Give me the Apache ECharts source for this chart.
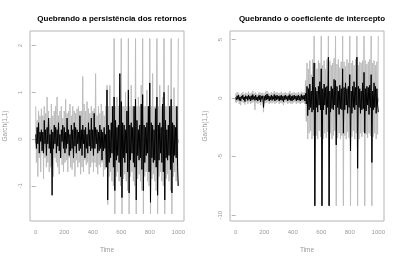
<!DOCTYPE html>
<html>
<head>
<meta charset="utf-8">
<script src="https://cdn.jsdelivr.net/npm/echarts@6/dist/echarts.min.js"></script>
<style>html,body{margin:0;padding:0;background:#fff}#c{width:400px;height:260px}</style>
</head>
<body>
<div id="c"></div>
<script>
// Time index: 0..1000 in steps of 5
var timeStep = 5;
var xTicks = [0, 200, 400, 600, 800, 1000];
var leftYTicks = [-1, 0, 1, 2];
var rightYTicks = [-10, -5, 0, 5];
var leftTitle = 'Quebrando a persistência dos retornos';
var rightTitle = 'Quebrando o coeficiente de intercepto';
var xName = 'Time';
var yName = 'Garch(1,1)';

var leftBlack = [
0.1,-0.2,0.25,-0.1,0.35,-0.3,0.15,-0.05,0.2,-0.25,
0.15,-0.3,0.4,-0.1,0.2,-0.35,0.25,-0.1,0.45,-0.2,
0.1,-0.3,0.2,-1.2,0.15,-0.2,0.3,-0.1,0.25,-0.3,
0.2,-0.15,0.35,-0.25,0.1,-0.4,0.2,-0.05,0.3,-0.2,
0.25,-0.3,0.15,-0.2,0.45,-0.1,0.2,-0.35,0.1,-0.25,
0.3,-0.2,0.2,-0.4,0.35,-0.15,0.25,-0.3,0.2,-0.1,
0.15,-0.25,0.5,-0.2,0.2,-0.35,0.3,-0.1,0.2,-0.4,
0.25,-0.2,0.1,-0.3,0.35,-0.15,0.2,-0.25,0.45,-0.2,
0.2,-0.35,0.55,-0.2,0.25,-0.1,0.2,-0.3,0.15,-0.25,
0.3,-0.2,0.2,-0.45,0.15,-0.25,0.25,-0.2,0.1,-0.6,
1.05,-1.3,0.3,-0.5,0.2,-0.4,0.35,-0.3,0.7,-0.6,
0.9,-1.1,0.4,-0.45,0.25,-0.35,0.3,-0.5,1.4,-0.8,
0.8,-1.25,0.35,-0.4,0.3,-0.5,0.2,-0.3,0.6,-0.7,
1.05,-1.15,0.3,-0.45,0.35,-0.3,0.25,-0.5,0.7,-0.6,
0.85,-1.3,0.4,-0.35,0.2,-0.45,0.3,-0.4,0.75,-0.65,
0.95,-1.1,0.3,-0.5,0.25,-0.35,0.35,-0.3,0.7,-0.7,
1.2,-1.35,0.35,-0.4,0.3,-0.5,0.2,-0.45,0.65,-0.6,
0.9,-1.2,0.3,-0.45,0.35,-0.3,0.25,-0.5,0.75,-0.7,
1.0,-1.3,0.4,-0.4,0.2,-0.45,0.3,-0.35,0.7,-0.65,
0.85,-1.15,0.35,-0.5,0.3,-0.35,0.25,-0.4,0.7,-0.6,
-1.0
];
var leftGray = [
0.7,-0.5,0.4,-0.8,0.6,-0.4,0.5,-0.7,0.65,-0.3,
0.5,-0.85,0.7,-0.4,0.55,-0.6,0.9,-0.5,0.6,-0.7,
0.45,-0.6,0.75,-0.55,0.5,-0.8,0.6,-0.4,0.7,-0.5,
0.9,-0.6,0.5,-0.75,0.6,-0.4,0.7,-0.55,0.45,-0.7,
0.6,-0.5,0.85,-0.45,0.55,-0.7,0.6,-0.4,0.75,-0.6,
0.5,-0.65,0.7,-0.5,0.6,-0.8,0.55,-0.45,0.65,-0.6,
0.7,-0.5,0.6,-0.75,0.6,-0.6,1.34,-0.7,0.75,-0.45,
0.6,-0.55,0.8,-0.5,0.65,-0.75,0.55,-0.6,0.7,-0.5,
0.6,-0.7,0.65,-0.5,1.4,-0.6,0.5,-0.75,0.7,-0.55,
0.55,-0.6,0.75,-0.5,0.6,-0.8,0.5,-0.65,0.7,-0.6,
1.15,-1.4,0.7,-0.8,1.15,-0.7,0.7,-0.9,0.7,-1.0,
2.15,-1.6,0.7,-0.8,0.9,-0.7,0.7,-0.9,1.15,-1.0,
2.15,-1.6,0.7,-0.85,0.7,-0.75,1.0,-0.9,0.7,-1.1,
2.15,-1.6,0.7,-0.8,1.15,-0.7,0.7,-0.9,0.7,-1.0,
2.15,-1.6,0.7,-0.85,0.9,-0.75,0.7,-0.9,1.15,-1.1,
2.15,-1.6,0.7,-0.8,0.7,-0.7,1.05,-0.9,0.7,-1.0,
2.15,-1.6,0.7,-0.85,1.4,-0.75,0.7,-0.9,0.7,-1.1,
2.15,-1.6,0.7,-0.8,1.15,-0.7,0.7,-0.9,0.9,-1.0,
2.15,-1.6,0.7,-0.85,0.7,-0.75,1.15,-0.9,0.7,-1.1,
2.15,-1.6,0.7,-0.8,1.1,-0.7,0.7,-0.9,0.7,-1.0,
2.15
];
var rightBlack = [
0.05,-0.15,0.2,-0.1,0.25,-0.2,0.1,-0.25,0.15,-0.05,
0.25,-0.15,0.1,-0.3,0.2,-0.05,0.15,-0.2,0.25,-0.1,
0.15,-0.25,0.2,-0.15,0.3,-0.1,0.15,-0.2,0.25,-0.15,
0.1,-0.25,0.2,-0.15,0.25,-0.3,0.15,-0.1,0.2,-0.8,
0.15,-0.2,0.25,-0.15,0.35,-0.1,0.2,-0.25,0.15,-0.15,
0.25,-0.2,0.15,-0.1,0.3,-0.25,0.2,-0.15,0.25,-0.1,
0.15,-0.25,0.2,-0.15,0.25,-0.2,0.15,-0.3,0.2,-0.15,
0.25,-0.1,0.15,-0.25,0.2,-0.15,0.3,-0.2,0.15,-0.25,
0.2,-0.15,0.25,-0.1,0.15,-0.25,0.2,-0.15,0.25,-0.2,
0.15,-0.25,0.3,-0.15,0.2,-0.1,0.25,-0.25,0.4,-0.5,
1.0,-1.5,0.8,-1.0,1.2,-0.8,0.6,-1.2,1.8,-1.0,
3.0,-9.2,0.9,-0.8,0.6,-1.2,1.0,-0.6,1.4,-1.0,
2.5,-9.2,0.8,-1.0,1.2,-0.6,0.9,-1.4,1.0,-0.8,
3.5,-9.2,0.6,-1.2,1.0,-0.9,0.8,-1.0,1.6,-0.6,
1.5,-4.0,1.0,-0.8,0.6,-1.4,1.1,-0.9,0.8,-1.0,
2.5,-3.0,0.9,-1.0,1.3,-0.6,0.8,-1.3,1.0,-0.8,
2.0,-4.5,0.6,-1.3,1.0,-0.8,1.4,-1.0,0.9,-0.6,
3.5,-6.0,1.0,-0.8,0.8,-1.3,0.6,-1.0,1.3,-0.9,
2.2,-3.0,0.8,-1.1,1.0,-0.6,0.9,-1.4,1.1,-0.8,
2.0,-5.5,0.6,-1.0,1.3,-0.8,1.0,-1.3,0.8,-0.6,
-1.2
];
var rightGray = [
0.4,-0.4,0.5,-0.3,0.45,-0.5,0.3,-0.6,0.4,-0.35,
0.5,-0.4,0.35,-0.55,0.45,-0.3,0.4,-0.5,0.55,-0.35,
0.4,-0.5,0.45,-0.4,0.6,-0.35,0.4,-1.0,0.5,-0.4,
0.35,-0.5,0.45,-0.4,0.5,-0.6,0.4,-0.35,0.45,-1.2,
0.4,-0.45,0.55,-0.4,0.6,-0.35,0.45,-0.5,0.4,-0.4,
0.5,-0.45,0.4,-0.35,0.6,-0.5,0.45,-0.4,0.5,-0.35,
0.4,-0.5,0.45,-0.4,0.55,-0.45,0.4,-0.6,0.45,-0.4,
0.5,-0.35,0.4,-0.5,0.45,-0.4,0.6,-0.45,0.4,-0.5,
0.45,-0.4,0.5,-0.35,0.4,-0.5,0.45,-0.4,0.5,-0.45,
0.4,-0.5,0.55,-0.4,0.45,-0.35,0.5,-0.5,1.5,-2.0,
3.0,-3.5,2.5,-3.0,3.2,-2.8,2.0,-3.5,3.3,-3.2,
5.3,-9.2,3.0,-3.2,2.5,-3.5,3.2,-2.8,3.0,-3.3,
5.3,-9.2,2.8,-3.5,3.2,-3.0,2.5,-3.4,3.3,-2.9,
5.3,-9.2,3.2,-3.0,2.8,-3.5,3.0,-3.2,3.4,-2.8,
5.3,-9.2,2.9,-3.4,3.3,-3.0,2.6,-3.5,3.1,-3.2,
5.3,-9.2,3.1,-3.2,2.7,-3.5,3.3,-2.9,3.0,-3.4,
5.3,-9.2,3.0,-3.3,3.2,-2.8,2.8,-3.5,3.3,-3.0,
5.3,-9.2,2.8,-3.5,3.1,-3.0,3.0,-3.3,3.2,-2.9,
5.3,-9.2,3.2,-3.1,2.9,-3.4,3.1,-3.0,3.3,-3.2,
5.3,-9.2,3.0,-3.3,3.2,-3.0,2.8,-3.5,3.1,-3.1,
5.3
];

function pairs(vals){ return vals.map(function(v,i){ return [i*timeStep, v]; }); }

var axisGray = '#b4b4b4';
var textGray = '#9a9a9a';
var font = 'Liberation Sans, Arial, sans-serif';

function xAxis(gi){
  return {
    type:'value', gridIndex:gi, min:-40, max:1040,
    name:xName, nameLocation:'middle', nameGap:26,
    nameTextStyle:{color:textGray, fontSize:6.5, fontFamily:font},
    axisLine:{show:false}, splitLine:{show:false},
    axisTick:{show:true, length:4, lineStyle:{color:axisGray}, customValues:xTicks},
    axisLabel:{color:textGray, fontSize:6, fontFamily:font, margin:8, customValues:xTicks,
      formatter:function(v){ return String(v); }}
  };
}
function yAxis(gi, mn, mx, ticks){
  return {
    type:'value', gridIndex:gi, min:mn, max:mx,
    name:yName, nameLocation:'middle', nameGap:21,
    nameTextStyle:{color:textGray, fontSize:6.5, fontFamily:font},
    axisLine:{show:false}, splitLine:{show:false},
    axisTick:{show:true, length:4, lineStyle:{color:axisGray}, customValues:ticks},
    axisLabel:{color:textGray, fontSize:6, fontFamily:font, margin:7, rotate:90, customValues:ticks,
      formatter:function(v){ return String(v); }}
  };
}
function line(gi, vals, color, z){
  return {type:'line', xAxisIndex:gi, yAxisIndex:gi, data:pairs(vals), showSymbol:false, symbol:'none',
    lineStyle:{color:color, width:1}, z:z, silent:true, sampling:null, animation:false};
}

var chart = echarts.init(document.getElementById('c'), null, {renderer:'canvas'});
chart.setOption({
  animation:false,
  backgroundColor:'#fff',
  title:[
    {text:leftTitle, left:107, top:10, textAlign:'center', textStyle:{fontSize:8, fontWeight:'bold', color:'#000', fontFamily:font}},
    {text:rightTitle, left:307, top:10, textAlign:'center', textStyle:{fontSize:8, fontWeight:'bold', color:'#000', fontFamily:font}}
  ],
  grid:[
    {left:30, top:31, width:154, height:190, show:true, borderColor:axisGray, borderWidth:1, backgroundColor:'transparent'},
    {left:230, top:31, width:154, height:190, show:true, borderColor:axisGray, borderWidth:1, backgroundColor:'transparent'}
  ],
  xAxis:[xAxis(0), xAxis(1)],
  yAxis:[yAxis(0, -1.75, 2.31, leftYTicks), yAxis(1, -10.5, 5.73, rightYTicks)],
  series:[
    line(0, leftGray, '#bdbdbd', 2),
    line(0, leftBlack, '#000000', 3),
    line(1, rightGray, '#bdbdbd', 2),
    line(1, rightBlack, '#000000', 3)
  ]
});
</script>
</body>
</html>
